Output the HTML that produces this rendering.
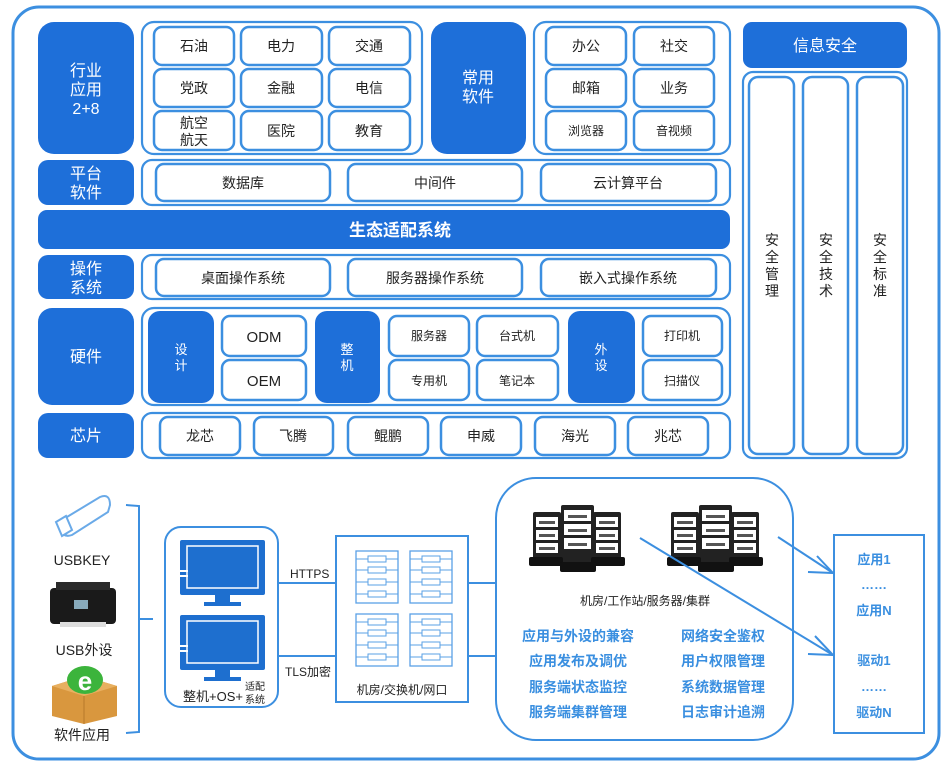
<!DOCTYPE html>
<html><head><meta charset="utf-8"><style>
html,body{margin:0;padding:0;background:#fff}
svg{display:block}
text{font-family:"Liberation Sans","Noto Sans CJK SC",sans-serif}
</style></head><body>
<svg width="951" height="775" viewBox="0 0 951 775" xmlns="http://www.w3.org/2000/svg">
<defs>
<g id="rack">
<rect x="0" y="0" width="42" height="52" fill="#fff" stroke="#5aa0e6" stroke-width="1.3"/>
<g stroke="#5aa0e6" stroke-width="1" fill="#fff">
<line x1="0" y1="8" x2="42" y2="8"/><line x1="0" y1="19" x2="42" y2="19"/><line x1="0" y1="31" x2="42" y2="31"/><line x1="0" y1="43" x2="42" y2="43"/>
<rect x="12" y="5" width="18" height="6"/><rect x="12" y="16" width="18" height="6"/><rect x="12" y="28" width="18" height="6"/><rect x="12" y="40" width="18" height="6"/>
</g></g>
<g id="srv">
<rect x="0" y="7" width="28" height="50" fill="#222" rx="2"/>
<rect x="60" y="7" width="28" height="50" fill="#222" rx="2"/>
<rect x="28" y="0" width="33" height="62" fill="#222" rx="2"/>
<g fill="#fff"><rect x="3" y="12" width="22" height="10"/><rect x="3" y="25" width="22" height="10"/><rect x="3" y="38" width="22" height="10"/>
<rect x="63" y="12" width="22" height="10"/><rect x="63" y="25" width="22" height="10"/><rect x="63" y="38" width="22" height="10"/>
<rect x="31" y="5" width="27" height="11"/><rect x="31" y="19" width="27" height="11"/><rect x="31" y="33" width="27" height="11"/></g>
<g fill="#555"><rect x="6" y="16" width="16" height="3"/><rect x="6" y="29" width="16" height="3"/><rect x="6" y="42" width="16" height="3"/>
<rect x="66" y="16" width="16" height="3"/><rect x="66" y="29" width="16" height="3"/><rect x="66" y="42" width="16" height="3"/>
<rect x="35" y="10" width="19" height="3"/><rect x="35" y="24" width="19" height="3"/><rect x="35" y="38" width="19" height="3"/></g>
<rect x="-4" y="52" width="34" height="9" fill="#111" rx="2"/><rect x="58" y="52" width="34" height="9" fill="#111" rx="2"/>
<rect x="27" y="57" width="36" height="10" fill="#111" rx="2"/>
</g>
<g id="mon">
<rect x="0" y="0" width="85" height="55" fill="#1e6fcf" rx="2"/>
<rect x="7" y="6" width="71" height="42" fill="none" stroke="#fff" stroke-width="1.5"/>
<rect x="0" y="30" width="8" height="2" fill="#fff"/><rect x="0" y="35" width="8" height="2" fill="#fff"/>
<rect x="35" y="55" width="15" height="8" fill="#1e6fcf"/><rect x="24" y="62" width="37" height="4" fill="#1e6fcf"/>
</g>
</defs>

<rect x="13" y="7" width="926" height="752" rx="26" fill="#fff" stroke="#3c8fe0" stroke-width="3"/>

<g fill="#1e6fd9">
<rect x="38" y="22" width="96" height="132" rx="16"/>
<rect x="38" y="160" width="96" height="45" rx="10"/>
<rect x="38" y="210" width="692" height="39" rx="9"/>
<rect x="38" y="255" width="96" height="44" rx="10"/>
<rect x="38" y="308" width="96" height="97" rx="14"/>
<rect x="38" y="413" width="96" height="45" rx="10"/>
<rect x="431" y="22" width="95" height="132" rx="16"/>
<rect x="743" y="22" width="164" height="46" rx="9"/>
<rect x="148" y="311" width="66" height="92" rx="12"/>
<rect x="315" y="311" width="65" height="92" rx="12"/>
<rect x="568" y="311" width="67" height="92" rx="12"/>
</g>

<g fill="none" stroke="#3c8fe0" stroke-width="2.2">
<rect x="142" y="22" width="280" height="132" rx="12"/>
<rect x="534" y="22" width="196" height="132" rx="12"/>
<rect x="142" y="160" width="588" height="45" rx="10"/>
<rect x="142" y="255" width="588" height="44" rx="10"/>
<rect x="142" y="308" width="588" height="97" rx="12"/>
<rect x="142" y="413" width="588" height="45" rx="10"/>
<rect x="743" y="72" width="164" height="386" rx="10"/>
</g>
<g fill="#fff" stroke="#3c8fe0" stroke-width="2.5">
<rect x="154" y="27" width="80" height="38" rx="8"/><rect x="241" y="27" width="81" height="38" rx="8"/><rect x="329" y="27" width="81" height="38" rx="8"/>
<rect x="154" y="69" width="80" height="38" rx="8"/><rect x="241" y="69" width="81" height="38" rx="8"/><rect x="329" y="69" width="81" height="38" rx="8"/>
<rect x="154" y="111" width="80" height="39" rx="8"/><rect x="241" y="111" width="81" height="39" rx="8"/><rect x="329" y="111" width="81" height="39" rx="8"/>
<rect x="546" y="27" width="80" height="38" rx="8"/><rect x="634" y="27" width="80" height="38" rx="8"/>
<rect x="546" y="69" width="80" height="38" rx="8"/><rect x="634" y="69" width="80" height="38" rx="8"/>
<rect x="546" y="111" width="80" height="39" rx="8"/><rect x="634" y="111" width="80" height="39" rx="8"/>
<rect x="156" y="164" width="174" height="37" rx="8"/><rect x="348" y="164" width="174" height="37" rx="8"/><rect x="541" y="164" width="175" height="37" rx="8"/>
<rect x="156" y="259" width="174" height="37" rx="8"/><rect x="348" y="259" width="174" height="37" rx="8"/><rect x="541" y="259" width="175" height="37" rx="8"/>
<rect x="222" y="316" width="84" height="40" rx="8"/><rect x="222" y="360" width="84" height="40" rx="8"/>
<rect x="389" y="316" width="80" height="40" rx="8"/><rect x="477" y="316" width="81" height="40" rx="8"/>
<rect x="389" y="360" width="80" height="40" rx="8"/><rect x="477" y="360" width="81" height="40" rx="8"/>
<rect x="643" y="316" width="79" height="40" rx="8"/><rect x="643" y="360" width="79" height="40" rx="8"/>
<rect x="160" y="417" width="80" height="38" rx="8"/><rect x="254" y="417" width="79" height="38" rx="8"/><rect x="348" y="417" width="80" height="38" rx="8"/>
<rect x="441" y="417" width="80" height="38" rx="8"/><rect x="535" y="417" width="80" height="38" rx="8"/><rect x="628" y="417" width="80" height="38" rx="8"/>
<rect x="749" y="77" width="45" height="377" rx="9"/><rect x="803" y="77" width="45" height="377" rx="9"/><rect x="857" y="77" width="46" height="377" rx="9"/>
</g>

<g fill="#fff" font-size="16" text-anchor="middle">
<text x="86" y="76">行业</text><text x="86" y="95">应用</text><text x="86" y="114">2+8</text>
<text x="86" y="179">平台</text><text x="86" y="198">软件</text>
<text x="86" y="274">操作</text><text x="86" y="293">系统</text>
<text x="86" y="362">硬件</text>
<text x="86" y="441">芯片</text>
<text x="478" y="83">常用</text><text x="478" y="102">软件</text>
<text x="825" y="51">信息安全</text>
<text x="400" y="236" font-weight="bold" font-size="17">生态适配系统</text>
<g font-size="13"><text x="181" y="354">设</text><text x="181" y="370">计</text>
<text x="347" y="354">整</text><text x="347" y="370">机</text>
<text x="601" y="354">外</text><text x="601" y="370">设</text></g>
</g>

<g fill="#222" font-size="14" text-anchor="middle">
<text x="194" y="51">石油</text><text x="281" y="51">电力</text><text x="369" y="51">交通</text>
<text x="194" y="93">党政</text><text x="281" y="93">金融</text><text x="369" y="93">电信</text>
<text x="194" y="128">航空</text><text x="194" y="145">航天</text><text x="281" y="136">医院</text><text x="369" y="136">教育</text>
<text x="586" y="51">办公</text><text x="674" y="51">社交</text>
<text x="586" y="93">邮箱</text><text x="674" y="93">业务</text>
<text x="586" y="135" font-size="12">浏览器</text><text x="674" y="135" font-size="12">音视频</text>
<text x="243" y="188">数据库</text><text x="435" y="188">中间件</text><text x="628" y="188">云计算平台</text>
<text x="243" y="283">桌面操作系统</text><text x="435" y="283">服务器操作系统</text><text x="628" y="283">嵌入式操作系统</text>
<text x="264" y="342" font-size="15">ODM</text><text x="264" y="386" font-size="15">OEM</text>
<g font-size="12"><text x="429" y="340">服务器</text><text x="517" y="340">台式机</text>
<text x="429" y="385">专用机</text><text x="517" y="385">笔记本</text>
<text x="682" y="340">打印机</text><text x="682" y="385">扫描仪</text></g>
<text x="200" y="441">龙芯</text><text x="293" y="441">飞腾</text><text x="388" y="441">鲲鹏</text>
<text x="481" y="441">申威</text><text x="575" y="441">海光</text><text x="668" y="441">兆芯</text>
<text x="772" y="245">安</text><text x="772" y="262">全</text><text x="772" y="279">管</text><text x="772" y="296">理</text>
<text x="826" y="245">安</text><text x="826" y="262">全</text><text x="826" y="279">技</text><text x="826" y="296">术</text>
<text x="880" y="245">安</text><text x="880" y="262">全</text><text x="880" y="279">标</text><text x="880" y="296">准</text>
</g>

<!-- bottom left icons -->
<g>
<path d="M62 520 L100 497 Q110 493 110 505 L108 512 L72 535 Q64 538 60 530 Z" fill="#fff" stroke="#6aaae8" stroke-width="2"/>
<path d="M56 522 L66 516 L72 530 L62 536 Z" fill="#fff" stroke="#6aaae8" stroke-width="2"/>
<rect x="50" y="588" width="66" height="36" rx="4" fill="#1a1a1a"/>
<rect x="56" y="582" width="54" height="8" fill="#2a2a2a"/>
<rect x="74" y="600" width="14" height="9" fill="#8ab"/>
<rect x="60" y="622" width="46" height="5" fill="#ddd"/>
<path d="M52 686 L84 676 L117 686 L117 716 L84 724 L52 716 Z" fill="#d9973e"/>
<path d="M52 686 L84 696 L117 686 L84 676 Z" fill="#e8b060"/>
<path d="M84 696 L84 724" stroke="#b87a2a" stroke-width="1"/>
<ellipse cx="85" cy="680" rx="18" ry="14" fill="#3cb43c"/>
<text x="85" y="690" font-size="26" font-weight="bold" fill="#fff" text-anchor="middle">e</text>
</g>
<g font-size="14" fill="#222" text-anchor="middle">
<text x="82" y="565">USBKEY</text><text x="84" y="655">USB外设</text><text x="82" y="740">软件应用</text>
</g>
<path d="M126 505 L139 506 L139 732 L126 733 M139 619 L153 619" fill="none" stroke="#3c8fe0" stroke-width="2"/>

<rect x="165" y="527" width="113" height="180" rx="16" fill="#fff" stroke="#3c8fe0" stroke-width="2"/>
<use href="#mon" x="180" y="540"/><use href="#mon" x="180" y="615"/>
<text x="183" y="701" font-size="13" fill="#222">整机+OS+</text>
<text x="255" y="690" font-size="10" fill="#222" text-anchor="middle">适配</text>
<text x="255" y="703" font-size="10" fill="#222" text-anchor="middle">系统</text>

<g stroke="#3c8fe0" stroke-width="2"><line x1="278" y1="583" x2="336" y2="583"/><line x1="278" y1="656" x2="336" y2="656"/>
<line x1="468" y1="583" x2="497" y2="583"/><line x1="468" y1="656" x2="497" y2="656"/></g>
<text x="290" y="578" font-size="12" fill="#222">HTTPS</text>
<text x="285" y="676" font-size="12" fill="#222">TLS加密</text>
<rect x="336" y="536" width="132" height="166" fill="#fff" stroke="#3c8fe0" stroke-width="2"/>
<use href="#rack" x="356" y="551"/><use href="#rack" x="410" y="551"/>
<use href="#rack" x="356" y="614"/><use href="#rack" x="410" y="614"/>
<text x="402" y="694" font-size="12" fill="#222" text-anchor="middle">机房/交换机/网口</text>

<rect x="496" y="478" width="297" height="262" rx="40" fill="#fff" stroke="#3c8fe0" stroke-width="2"/>
<use href="#srv" x="533" y="505"/><use href="#srv" x="671" y="505"/>
<text x="645" y="605" font-size="12" fill="#222" text-anchor="middle">机房/工作站/服务器/集群</text>
<g font-size="14" font-weight="bold" fill="#3a8fe0" text-anchor="middle">
<text x="578" y="641">应用与外设的兼容</text><text x="578" y="666">应用发布及调优</text><text x="578" y="692">服务端状态监控</text><text x="578" y="717">服务端集群管理</text>
<text x="723" y="641">网络安全鉴权</text><text x="723" y="666">用户权限管理</text><text x="723" y="692">系统数据管理</text><text x="723" y="717">日志审计追溯</text>
</g>
<g stroke="#3c8fe0" stroke-width="2" fill="none">
<line x1="640" y1="538" x2="833" y2="655"/><polyline points="815,636 833,655 808,654"/>
<line x1="778" y1="537" x2="833" y2="573"/><polyline points="817,556 833,573 808,572"/>
</g>
<rect x="834" y="535" width="90" height="198" fill="#fff" stroke="#3c8fe0" stroke-width="2"/>
<g font-size="13" font-weight="bold" fill="#3a8fe0" text-anchor="middle">
<text x="874" y="564">应用1</text><text x="874" y="589">……</text><text x="874" y="615">应用N</text>
<text x="874" y="665">驱动1</text><text x="874" y="691">……</text><text x="874" y="717">驱动N</text>
</g>
</svg>
</body></html>
